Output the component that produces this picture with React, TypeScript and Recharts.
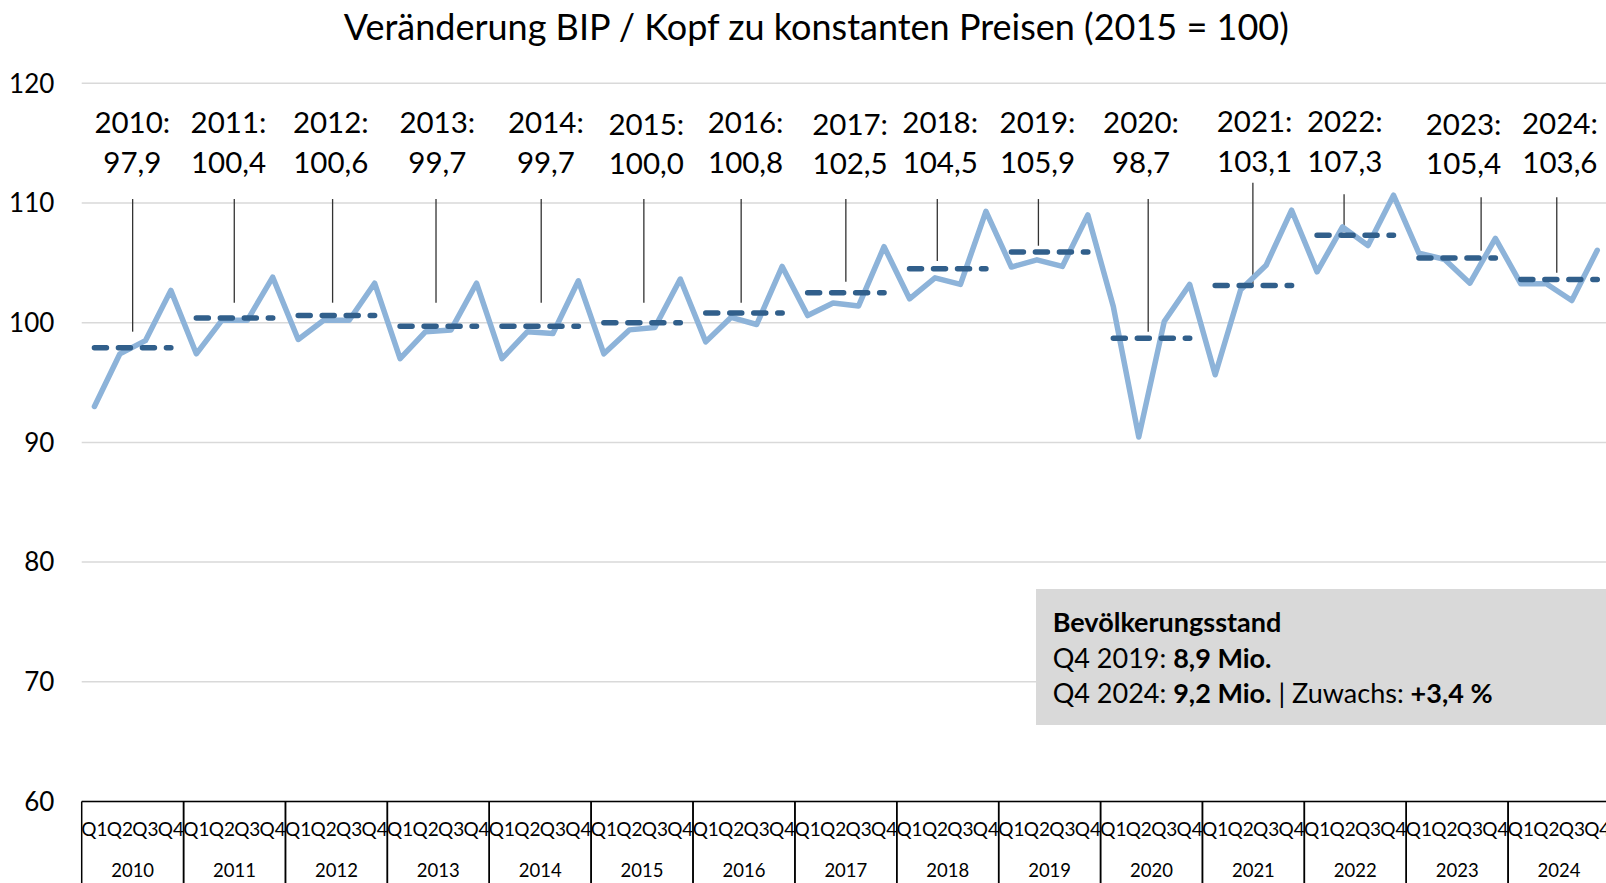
import React from 'react';
import { ComposedChart, Line, XAxis, YAxis, CartesianGrid, ReferenceLine } from 'recharts';

// ---------- data ----------
const YEARS = [2010, 2011, 2012, 2013, 2014, 2015, 2016, 2017, 2018, 2019, 2020, 2021, 2022, 2023, 2024];
const QUARTERS = ['Q1', 'Q2', 'Q3', 'Q4'];
const QUARTER_VALUES = [
  [93.0, 97.4, 98.5, 102.7],
  [97.4, 100.2, 100.2, 103.8],
  [98.6, 100.2, 100.2, 103.3],
  [97.0, 99.25, 99.4, 103.3],
  [97.0, 99.25, 99.1, 103.5],
  [97.4, 99.4, 99.6, 103.65],
  [98.4, 100.45, 99.85, 104.7],
  [100.6, 101.65, 101.4, 106.35],
  [102.0, 103.75, 103.2, 109.3],
  [104.65, 105.25, 104.7, 109.0],
  [101.35, 90.45, 100.1, 103.2],
  [95.65, 102.75, 104.8, 109.4],
  [104.25, 108.0, 106.45, 110.65],
  [105.8, 105.3, 103.3, 107.05],
  [103.25, 103.25, 101.85, 106.05],
];
const ANNUAL_AVG = [97.9, 100.4, 100.6, 99.7, 99.7, 100.0, 100.8, 102.5, 104.5, 105.9, 98.7, 103.1, 107.3, 105.4, 103.6];
const Y_TICKS = [60, 70, 80, 90, 100, 110, 120];

// leader lines of the data labels (data coordinates: x in quarters, y in index points)
const LEADER_X = [2.0, 5.99, 9.85, 13.91, 18.04, 22.07, 25.89, 30.0, 33.59, 37.56, 41.87, 45.98, 49.56, 54.94, 57.91];
const LEADER_TOP = [110.33, 110.33, 110.33, 110.33, 110.33, 110.33, 110.33, 110.33, 110.33, 110.33, 110.33, 111.7, 110.73, 110.48, 110.48];
const LEADER_BOTTOM = [99.25, 101.67, 101.67, 101.67, 101.67, 101.67, 101.67, 103.43, 105.15, 106.43, 99.25, 103.23, 107.6, 106.02, 104.18];

// label layout (page pixels)
const LABEL_X = [132.3, 228.5, 330.8, 437.3, 545.9, 646.3, 745.6, 850.1, 940.2, 1037.5, 1141, 1254.6, 1344.8, 1463.6, 1559.9];
const LABEL_DY = [0, 0, 0, 0, 0, 1.5, 0, 1.5, 0, 0, 0, -1, -1, 1.5, 0.5];

const rows: any[] = [];
YEARS.forEach((yr, yi) => {
  QUARTER_VALUES[yi].forEach((v, qi) => {
    const row: any = { x: yi * 4 + qi + 0.5, v };
    row['a' + yr] = ANNUAL_AVG[yi];
    rows.push(row);
  });
});
const X_TICKS = rows.map((r) => r.x);

// ---------- layout ----------
const FONT = 'Lato, "Open Sans", sans-serif';
const CHART_W = 1620;
const CHART_H = 883;
const M_RIGHT = 10;
const Y_W = 81.7;
const M_TOP = 83.3;
const X_H = 81.5;
const QW = (CHART_W - M_RIGHT - Y_W) / 60;

const fmt = (n: number) => n.toFixed(1).replace('.', ',');

const QuarterTick = (props: any) => {
  const { x, y, payload } = props;
  const idx = Math.round(payload.value - 0.5);
  const q = idx % 4;
  const yi = Math.floor(idx / 4);
  return (
    <g>
      <text x={x} y={y + 26.5} textAnchor="middle" dominantBaseline="central" fontSize={19} fontFamily={FONT} fill="#000">
        {QUARTERS[q]}
      </text>
      {q === 0 && (
        <>
          <line x1={x - QW / 2} x2={x - QW / 2} y1={y} y2={y + 90} stroke="#000" strokeWidth={1.5} />
          <text x={x + 1.5 * QW} y={y + 68.5} textAnchor="middle" dominantBaseline="central" fontSize={18.5} fontFamily={FONT} fill="#000">
            {YEARS[yi]}
          </text>
        </>
      )}
      {q === 3 && <line x1={x + QW / 2} x2={x + QW / 2} y1={y} y2={y + 90} stroke="#000" strokeWidth={1.5} />}
    </g>
  );
};

export default function App() {
  return (
    <div style={{ position: 'fixed', left: 0, top: 0, width: 1606, height: 883, overflow: 'hidden', fontFamily: FONT, background: '#fff' }}>
      <ComposedChart width={CHART_W} height={CHART_H} data={rows} margin={{ top: M_TOP, right: M_RIGHT, bottom: 0, left: 0 }}>
        <CartesianGrid horizontal vertical={false} stroke="#d9d9d9" strokeWidth={1.5} />
        <XAxis
          type="number"
          dataKey="x"
          domain={[0, 60]}
          ticks={X_TICKS}
          interval={0}
          tick={<QuarterTick />}
          tickLine={false}
          tickSize={0}
          tickMargin={0}
          height={X_H}
          axisLine={{ stroke: '#000', strokeWidth: 1.5 }}
          allowDataOverflow
        />
        <YAxis
          type="number"
          domain={[60, 120]}
          ticks={Y_TICKS}
          interval={0}
          width={Y_W}
          axisLine={false}
          tickLine={false}
          tickSize={0}
          tickMargin={27.4}
          tick={{ fontSize: 26, fill: '#000', fontFamily: FONT }}
          allowDataOverflow
        />
        {YEARS.map((yr, i) => (
          <ReferenceLine
            key={'l' + yr}
            segment={[
              { x: LEADER_X[i], y: LEADER_TOP[i] },
              { x: LEADER_X[i], y: LEADER_BOTTOM[i] },
            ]}
            stroke="#333"
            strokeWidth={1.3}
          />
        ))}
        <Line
          dataKey="v"
          type="linear"
          stroke="#8db3d9"
          strokeWidth={5.5}
          dot={false}
          activeDot={false}
          strokeLinejoin="round"
          strokeLinecap="round"
          isAnimationActive={false}
        />
        {YEARS.map((yr) => (
          <Line
            key={'a' + yr}
            dataKey={'a' + yr}
            type="linear"
            stroke="#315f8b"
            strokeWidth={5.5}
            strokeDasharray="12 12"
            strokeLinecap="round"
            dot={false}
            activeDot={false}
            connectNulls={false}
            isAnimationActive={false}
          />
        ))}
      </ComposedChart>

      <svg width={1606} height={883} style={{ position: 'absolute', left: 0, top: 0, pointerEvents: 'none' }}>
        <text x={816.3} y={25.6} textAnchor="middle" dominantBaseline="central" fontSize={36} fontFamily={FONT} fill="#000">
          Veränderung BIP / Kopf zu konstanten Preisen (2015 = 100)
        </text>
        {YEARS.map((yr, i) => (
          <g key={'t' + yr}>
            <text x={LABEL_X[i]} y={121.7 + LABEL_DY[i]} textAnchor="middle" dominantBaseline="central" fontSize={29.5} fontFamily={FONT} fill="#000">
              {yr + ':'}
            </text>
            <text x={LABEL_X[i]} y={161.2 + LABEL_DY[i]} textAnchor="middle" dominantBaseline="central" fontSize={29.5} fontFamily={FONT} fill="#000">
              {fmt(ANNUAL_AVG[i])}
            </text>
          </g>
        ))}
      </svg>

      <div
        style={{
          position: 'absolute',
          left: 1036,
          top: 589,
          width: 600,
          height: 136,
          background: '#d9d9d9',
          boxSizing: 'border-box',
          paddingLeft: 16.7,
          paddingTop: 14.8,
          fontSize: 27,
          lineHeight: '35.8px',
          color: '#000',
          fontFamily: FONT,
          whiteSpace: 'nowrap',
        }}
      >
        <div style={{ fontWeight: 'bold' }}>Bevölkerungsstand</div>
        <div>
          Q4 2019: <b>8,9 Mio.</b>
        </div>
        <div>
          Q4 2024: <b>9,2 Mio.</b> | Zuwachs: <b>+3,4 %</b>
        </div>
      </div>
    </div>
  );
}
